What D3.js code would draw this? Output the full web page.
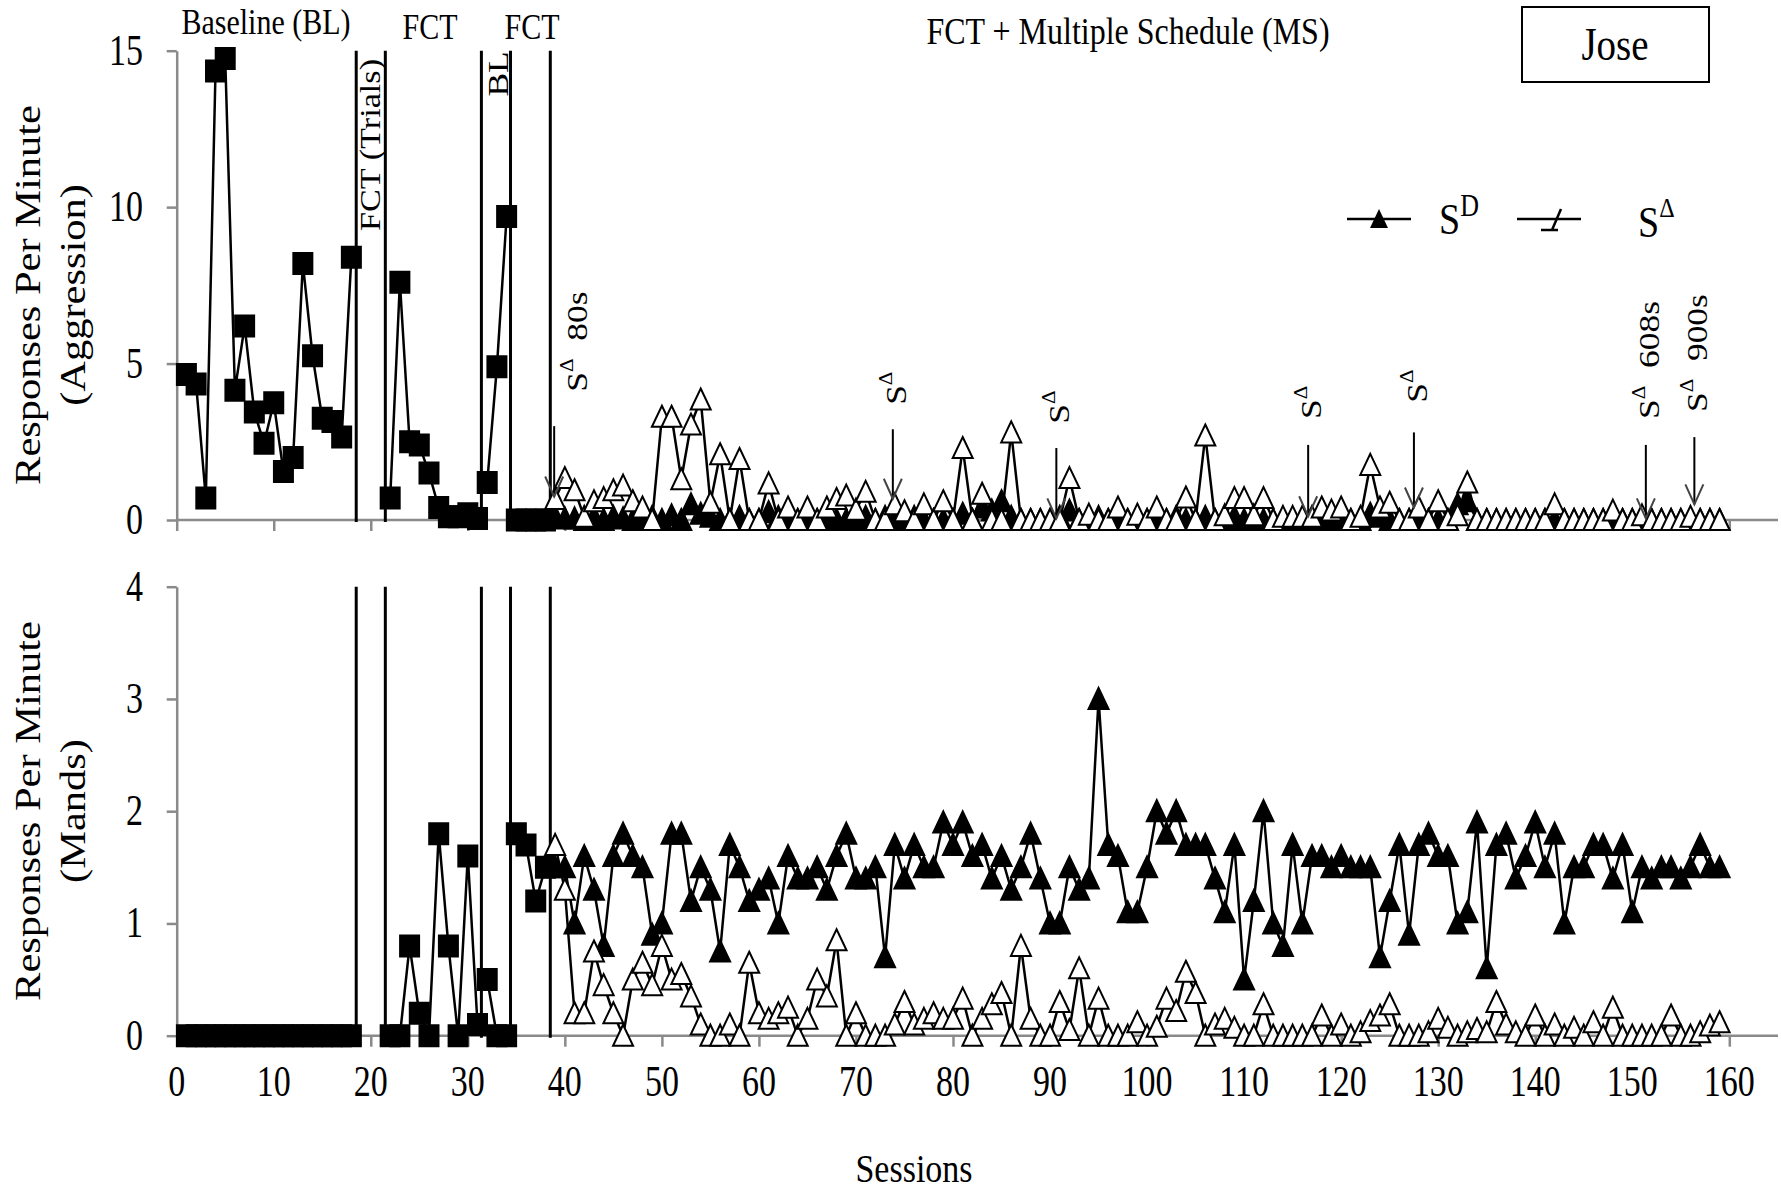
<!DOCTYPE html>
<html><head><meta charset="utf-8">
<script src="https://cdn.jsdelivr.net/npm/d3@7"></script>
<style>
body{margin:0;background:#fff}
svg{display:block}
text{font-family:"Liberation Serif","Times New Roman",serif;fill:#000}
</style>
</head><body>
<svg id="c" width="1781" height="1195"></svg>
<script>
// ---------------- DATA ----------------
const xTickLabels = ["0","10","20","30","40","50","60","70","80","90","100","110","120","130","140","150","160"];
const xTickValues = [0,10,20,30,40,50,60,70,80,90,100,110,120,130,140,150,160];
const yTopTicks = [0,5,10,15];
const yBotTicks = [0,1,2,3,4];

// Aggression (top) - squares, phases before the multiple schedule
const aggBL1 = [4.65,4.35,0.7,14.35,14.75,4.15,6.2,3.45,2.45,3.75,1.55,2.0,8.2,5.25,3.25,3.15,2.65,8.4]; // sessions 1-18
const aggFCT1 = [0.7,7.6,2.5,2.4,1.5,0.4,0.1,0.1,0.2,0.05];   // sessions 22-31
const aggBL2 = [1.2,4.9,9.7];                                   // sessions 32-34
const aggFCT2 = [0,0,0,0];                                      // sessions 35-38
// Mands (bottom) - squares
const mandBL1 = [0,0,0,0,0,0,0,0,0,0,0,0,0,0,0,0,0,0];          // sessions 1-18
const mandFCT1 = [0,0,0.8,0.2,0,1.8,0.8,0,1.6,0.1];             // sessions 22-31
const mandBL2 = [0.5,0,0];                                      // sessions 32-34
const mandFCT2 = [1.8,1.7,1.2,1.5];                             // sessions 35-38
const phaseStarts = [1,22,32,35];

// Multiple schedule, sessions 39-159
const msStart = 39;
const mandSD = [
 1.5,1.5,1.0,1.6,1.3,0.8,1.6,1.8,1.6,1.5,
 0.9,1.0,1.8,1.8,1.2,1.5,1.3,0.75,1.7,1.5,
 1.2,1.3,1.4,1.0,1.6,1.4,1.4,1.5,1.3,1.6,
 1.8,1.4,1.4,1.5,0.7,1.7,1.4,1.7,1.5,1.5,
 1.9,1.7,1.9,1.6,1.7,1.4,1.6,1.3,1.5,1.8,
 1.4,1.0,1.0,1.5,1.3,1.4,3.0,1.7,1.6,1.1,
 1.1,1.5,2.0,1.8,2.0,1.7,1.7,1.7,1.4,1.1,
 1.7,0.5,1.2,2.0,1.0,0.8,1.7,1.0,1.6,1.6,
 1.5,1.6,1.5,1.5,1.5,0.7,1.2,1.7,0.9,1.7,
 1.8,1.6,1.6,1.0,1.1,1.9,0.6,1.7,1.8,1.4,
 1.6,1.9,1.5,1.8,1.0,1.5,1.5,1.7,1.7,1.4,
 1.7,1.1,1.5,1.4,1.5,1.5,1.4,1.5,1.7,1.5,
 1.5];
const mandSDelta = [
 1.7,1.3,0.2,0.2,0.75,0.45,0.2,0.0,0.5,0.65,
 0.45,0.8,0.5,0.55,0.35,0.1,0.0,0.0,0.1,0.0,
 0.65,0.2,0.15,0.2,0.25,0.0,0.15,0.5,0.35,0.85,
 0.0,0.2,0.0,0.0,0.0,0.1,0.3,0.1,0.15,0.2,
 0.15,0.15,0.33,0.0,0.15,0.28,0.38,0.0,0.8,0.15,
 0.0,0.0,0.3,0.05,0.6,0.0,0.33,0.0,0.0,0.0,
 0.12,0.0,0.08,0.33,0.22,0.57,0.38,0.0,0.1,0.15,
 0.07,0.0,0.0,0.28,0.0,0.0,0.0,0.0,0.0,0.18,
 0.0,0.1,0.0,0.03,0.13,0.18,0.28,0.0,0.0,0.0,
 0.03,0.15,0.07,0.0,0.03,0.06,0.03,0.3,0.1,0.03,
 0.0,0.18,0.0,0.1,0.0,0.07,0.0,0.12,0.0,0.25,
 0.0,0.0,0.0,0.0,0.0,0.18,0.0,0.0,0.03,0.09,
 0.12];
const aggSD = [
 0.1,0.05,0.05,0.0,0.1,0.0,0.1,0.05,0.0,0.0,
 0.1,0.0,0.15,0.0,0.5,0.2,0.1,0.0,0.0,0.1,
 0.0,0.0,0.25,0.1,0.0,0.0,0.1,0.0,0.0,0.0,
 0.0,0.0,0.1,0.0,0.1,0.0,0.0,0.1,0.0,0.0,
 0.0,0.0,0.2,0.0,0.4,0.3,0.6,0.1,0.0,0.0,
 0.0,0.0,0.1,0.3,0.0,0.0,0.1,0.0,0.0,0.0,
 0.0,0.0,0.0,0.0,0.1,0.0,0.0,0.1,0.0,0.0,
 0.1,0.0,0.0,0.0,0.0,0.0,0.0,0.0,0.0,0.0,
 0.0,0.0,0.0,0.0,0.2,0.1,0.0,0.0,0.0,0.0,
 0.0,0.0,0.0,0.5,0.6,0.0,0.0,0.0,0.0,0.0,
 0.0,0.0,0.0,0.0,0.0,0.0,0.0,0.0,0.0,0.0,
 0.0,0.0,0.0,0.0,0.0,0.0,0.0,0.0,0.0,0.0,
 0.0];
const aggSDelta = [
 0.67,1.34,0.95,0.1,0.6,0.7,0.95,1.1,0.6,0.4,
 0.0,3.3,3.3,1.3,3.05,3.85,0.55,2.1,0.0,1.95,
 0.0,0.0,1.17,0.0,0.4,0.0,0.4,0.0,0.4,0.67,
 0.78,0.33,0.9,0.0,0.0,0.5,0.28,0.0,0.5,0.0,
 0.6,0.0,2.3,0.0,0.84,0.0,0.0,2.8,0.0,0.0,
 0.0,0.0,0.0,1.34,0.0,0.17,0.0,0.0,0.4,0.0,
 0.17,0.0,0.4,0.0,0.0,0.72,0.0,2.7,0.0,0.15,
 0.7,0.7,0.15,0.7,0.0,0.1,0.1,0.1,0.1,0.4,
 0.3,0.4,0.0,0.1,1.76,0.4,0.55,0.0,0.0,0.4,
 0.0,0.6,0.0,0.15,1.2,0.0,0.0,0.0,0.0,0.0,
 0.0,0.0,0.0,0.5,0.0,0.0,0.0,0.0,0.0,0.3,
 0.0,0.0,0.15,0.0,0.0,0.0,0.0,0.1,0.0,0.0,
 0.0];

const phaseLines = [18.5,21.5,31.4,34.4,38.5];
const arrowSessions = [38.9,73.8,90.65,116.6,127.5,151.4,156.4];
const arrowTopVals = [3.0,2.9,2.3,2.4,2.8,2.4,2.65];
const arrowTipVals = [0.75,0.68,0.05,0.12,0.4,0.05,0.5];
const arrowLabels = ["80s","","","","","608s","900s"];
const arrowLabelBaseVals = [4.1,3.68,3.08,3.23,3.75,3.23,3.45];

// ---------------- DRAWING ----------------
const K = 1.18;
const KT = 1.28;
const AX = "#8a8a8a";
const svg = d3.select("#c");
const x = d3.scaleLinear().domain([0,160]).range([176.7,1729.3]);
const yTop = d3.scaleLinear().domain([0,15]).range([520,50.7]);
const yBot = d3.scaleLinear().domain([0,4]).range([1035.7,586.7]);

function txt(g, px, py, s, size, anchor, rot, k){
  const kk = k || K;
  const t = g.append("text")
    .attr("transform", rot ? `translate(${px},${py}) rotate(-90) scale(${kk},1)` : `translate(${px},${py}) scale(1,${kk})`)
    .attr("font-size", size).attr("text-anchor", anchor || "start");
  if (s !== null) t.text(s);
  return t;
}

function drawAxes(y, yTicks, withLabels){
  const gx = svg.append("g").attr("transform",`translate(0,${y(0)})`)
    .call(d3.axisBottom(x).tickValues(xTickValues).tickSize(11).tickSizeOuter(0).tickFormat(""));
  gx.select(".domain").remove();
  gx.append("line").attr("x1", x(0)).attr("x2", 1778).attr("y1",0).attr("y2",0);
  gx.selectAll("line").attr("stroke", AX).attr("stroke-width", 2.5);
  const gy = svg.append("g").attr("transform",`translate(${x(0)},0)`)
    .call(d3.axisLeft(y).tickValues(yTicks).tickSize(10).tickSizeOuter(0).tickFormat(""));
  gy.select(".domain").attr("stroke", AX).attr("stroke-width", 2.5);
  gy.selectAll(".tick line").attr("stroke", AX).attr("stroke-width", 2.5);
  yTicks.forEach(v => txt(svg, 143, y(v) + 14, String(v), 34, "end", false, KT));
  if (withLabels) xTickValues.forEach((v,i) => txt(svg, x(v), 1096, xTickLabels[i], 34, "middle", false, KT));
}

const squareShape = "M-9.5,-10.5h19v21h-19z";
const triShape = "M0,-11L10,10L-10,10Z";

function drawSeries(g, y, start, vals, shape, fill){
  const pts = vals.map((v,i) => [x(start+i), y(v)]);
  g.append("path").attr("d", d3.line()(pts)).attr("fill","none")
    .attr("stroke","#000").attr("stroke-width",2.5).attr("stroke-linejoin","round");
  g.selectAll(null).data(pts).enter().append("path")
    .attr("transform", d => `translate(${d[0]},${d[1]})`)
    .attr("d", shape).attr("fill", fill).attr("stroke","#000").attr("stroke-width",2);
}

function drawPanel(y, ticks, labels, sq, sd, sdel){
  drawAxes(y, ticks, labels);
  const g = svg.append("g");
  phaseLines.forEach(p => g.append("line").attr("x1",x(p)).attr("x2",x(p))
    .attr("y1", y(ticks[ticks.length-1])).attr("y2", y(0)+2)
    .attr("stroke","#000").attr("stroke-width",3));
  sq.forEach((vals,i) => drawSeries(g, y, phaseStarts[i], vals, squareShape, "#000"));
  drawSeries(g, y, msStart, sd, triShape, "#000");
  drawSeries(g, y, msStart, sdel, triShape, "#fff");
}

drawPanel(yTop, yTopTicks, false, [aggBL1, aggFCT1, aggBL2, aggFCT2], aggSD, aggSDelta);
drawPanel(yBot, yBotTicks, true, [mandBL1, mandFCT1, mandBL2, mandFCT2], mandSD, mandSDelta);

// Arrows + labels (top panel)
const ga = svg.append("g");
arrowSessions.forEach((s,i) => {
  const ax = x(s), y1 = yTop(arrowTopVals[i]), y2 = yTop(arrowTipVals[i]);
  ga.append("line").attr("x1",ax).attr("x2",ax).attr("y1",y1).attr("y2",y2)
    .attr("stroke","#000").attr("stroke-width",2);
  ga.append("path").attr("d",`M${ax-9},${y2-20}L${ax},${y2}L${ax+9},${y2-20}`)
    .attr("fill","none").attr("stroke","#444").attr("stroke-width",2);
  const lx = ax + 13 + (i===0 ? 20 : 0);
  const t = txt(ga, lx, yTop(arrowLabelBaseVals[i]), null, 30, "start", true);
  t.append("tspan").text("S");
  t.append("tspan").attr("font-size",18).attr("dy",-14).text("Δ");
  if (arrowLabels[i]) t.append("tspan").attr("dy",14).text("\u00a0\u00a0" + arrowLabels[i]);
});

// Phase labels
txt(svg, 266, 34, "Baseline (BL)", 30, "middle");
txt(svg, 430, 39, "FCT", 30, "middle");
txt(svg, 532, 39, "FCT", 30, "middle");
txt(svg, 1128, 44, "FCT + Multiple Schedule (MS)", 32, "middle");
txt(svg, 380, 145, "FCT (Trials)", 29, "middle", true);
txt(svg, 508, 74, "BL", 30, "middle", true);

// Participant box
svg.append("rect").attr("x",1522).attr("y",7).attr("width",187).attr("height",75)
  .attr("fill","none").attr("stroke","#000").attr("stroke-width",2);
txt(svg, 1615, 60, "Jose", 39, "middle");

// Legend
const gl = svg.append("g");
gl.append("line").attr("x1",1347).attr("x2",1411).attr("y1",219).attr("y2",219).attr("stroke","#000").attr("stroke-width",2.5);
gl.append("path").attr("transform","translate(1379,219)").attr("d","M0,-10L9,9L-9,9Z").attr("fill","#000");
const l1 = txt(gl, 1439, 234, null, 38, "start");
l1.append("tspan").text("S");
l1.append("tspan").attr("font-size",26).attr("dy",-15).text("D");
gl.append("line").attr("x1",1517).attr("x2",1581).attr("y1",219).attr("y2",219).attr("stroke","#000").attr("stroke-width",2.5);
gl.append("path").attr("d","M1561,209L1552,230M1541,230L1558,230").attr("fill","none").attr("stroke","#000").attr("stroke-width",2.5);
const l2 = txt(gl, 1638, 237, null, 38, "start");
l2.append("tspan").text("S");
l2.append("tspan").attr("font-size",24).attr("dy",-17).text("Δ");

// Axis titles
txt(svg, 40, 295, "Responses Per Minute", 36, "middle", true);
txt(svg, 85, 295, "(Aggression)", 36, "middle", true);
txt(svg, 40, 811, "Responses Per Minute", 36, "middle", true);
txt(svg, 85, 811, "(Mands)", 36, "middle", true);
txt(svg, 914, 1182, "Sessions", 34, "middle");
</script>
</body></html>
